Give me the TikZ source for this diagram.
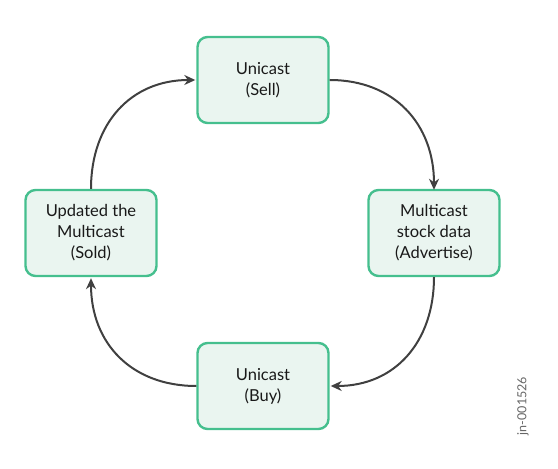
\documentclass[tikz,border=0pt]{standalone}
\usepackage{fontspec}
\setmainfont{Lato}
\usetikzlibrary{arrows.meta}
\definecolor{boxline}{HTML}{45BF8E}
\definecolor{boxfill}{HTML}{EAF5F0}
\definecolor{arrowgray}{HTML}{404040}
\tikzset{
    stepbox/.style={draw=boxline, fill=boxfill, line width=2.4pt, rounded corners=10pt,
        minimum width=131pt, minimum height=86pt, align=center, text=black!90,
        font=\fontsize{16.5}{21}\selectfont},
    flow/.style={draw=arrowgray, line width=2pt, -{Stealth[length=11pt,width=10pt]}}
}
\begin{document}
\begin{tikzpicture}[x=1pt,y=1pt]
        \useasboundingbox (0,0) rectangle (558,469);
        \node[stepbox] (sell) at (263,389) {Unicast\\(Sell)};
        \node[stepbox] (advertise) at (434,236) {Multicast\\stock data\\(Advertise)};
        \node[stepbox] (buy) at (263,83) {Unicast\\(Buy)};
        \node[stepbox] (sold) at (91,236) {Updated the\\Multicast\\(Sold)};
        \draw[flow] (sell.east) to[out=0,in=90,looseness=1.1] ([yshift=-1pt]advertise.north);
        \draw[flow] (advertise.south) to[out=-90,in=0,looseness=1.1] ([xshift=1pt]buy.east);
        \draw[flow] (buy.west) to[out=180,in=-90,looseness=1.1] ([yshift=-1pt]sold.south);
        \draw[flow] (sold.north) to[out=90,in=180,looseness=1.1] ([xshift=-1pt]sell.west);
        \node[rotate=90, text=black!60, font=\fontsize{12.5}{14}\selectfont] (tag) at (523,63) {jn-001526};
    \end{tikzpicture}
\end{document}
